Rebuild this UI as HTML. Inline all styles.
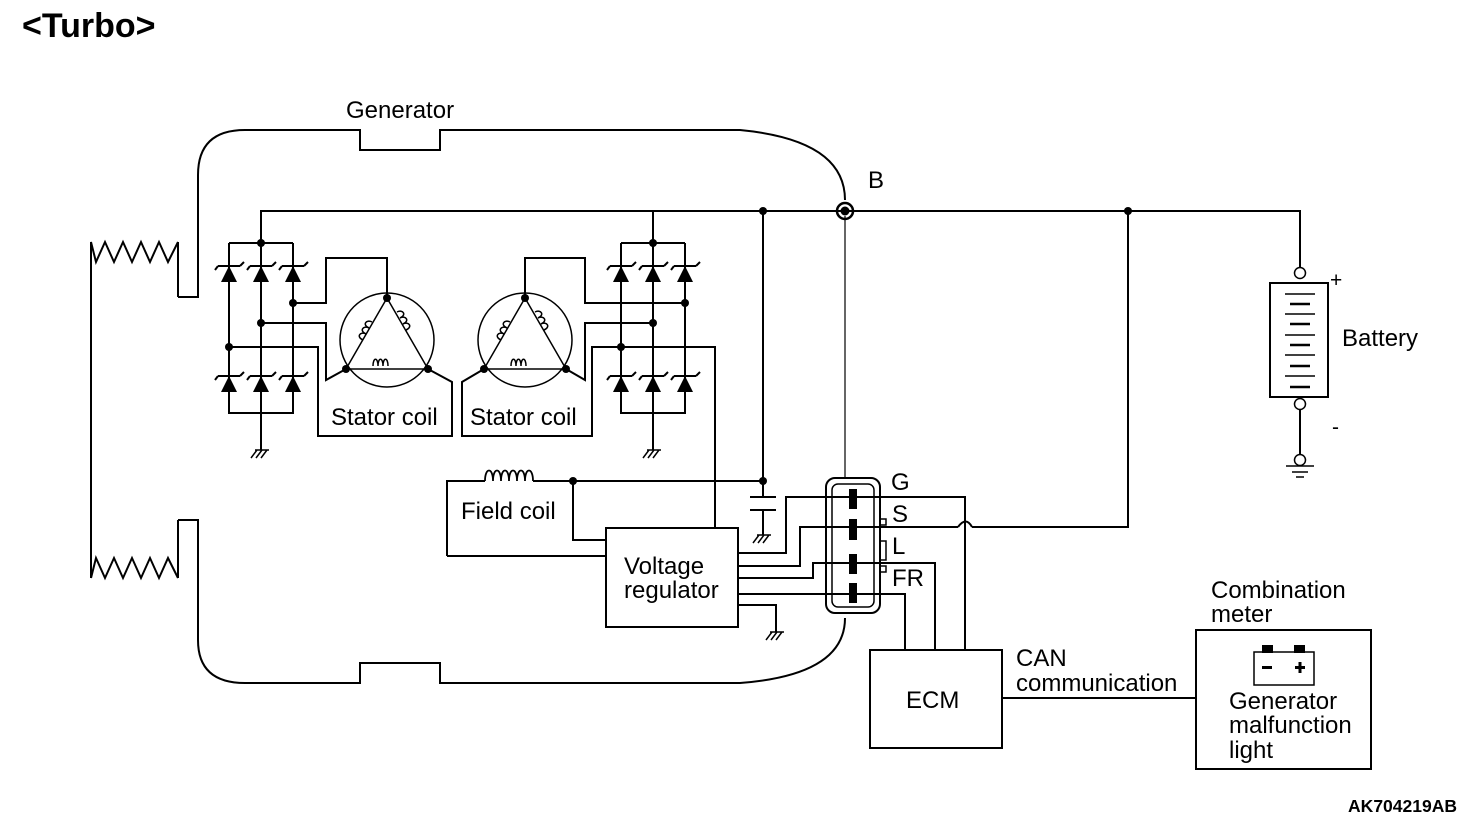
<!DOCTYPE html>
<html><head><meta charset="utf-8"><style>
html,body{margin:0;padding:0;background:#fff;}
svg{display:block;}
text{font-family:"Liberation Sans",Arial,sans-serif;fill:#000;}
</style></head><body>
<svg width="1472" height="828" viewBox="0 0 1472 828" xmlns="http://www.w3.org/2000/svg">
<defs>
<g id="d">
<polygon points="-8,9 8,9 0,-7" fill="#000"/>
<path d="M-11,-7 L11,-7 M-11,-7 L-14,-3 M11,-7 L15,-11" stroke="#000" stroke-width="2" fill="none"/>
</g>
<g id="gnd">
<path d="M-8,8 L-2,0 M-3,8 L3,0 M2,8 L8,0 M-4,0 L10,0" stroke="#000" stroke-width="1.5" fill="none"/>
</g>
</defs>
<text x="22" y="37" font-size="34" font-weight="bold">&lt;Turbo&gt;</text>
<text x="1457" y="812" font-size="17.5" font-weight="bold" text-anchor="end">AK704219AB</text>

<g fill="none" stroke="#000" stroke-width="2">
<path d="M178,297 L198,297 L198,175 Q198,130 245,130 L360,130 L360,150 L440,150 L440,130 L740,130 Q845,140 845,200"/>
<path d="M178,520 L198,520 L198,640 Q198,683 245,683 L360,683 L360,663 L440,663 L440,683 L740,683 Q845,675 845,618"/>
<path d="M178,297 L178,242 M178,520 L178,578"/>
<path d="M91,578 L91,242 L96,262 L105,242 L114,262 L123,242 L132,262 L141,242 L150,262 L159,242 L168,262 L178,242"/>
<path d="M91,578 L96,558 L105,578 L114,558 L123,578 L132,558 L141,578 L150,558 L159,578 L168,558 L178,578"/>
<path d="M261,243 L261,211 L1300,211 L1300,268"/>
<path d="M845,216 L845,478" stroke-width="1.2"/>
<path d="M229,243 L293,243 M229,243 L229,413 L293,413 L293,243 M261,243 L261,450"/>
<path d="M293,303 L326,303 L326,258 L387,258 L387,298"/>
<path d="M261,323 L326,323 L326,380 L346,369"/>
<path d="M229,347 L318,347 L318,436 L452,436 L452,382 L428,369"/>
<path d="M621,243 L685,243 M621,243 L621,413 L685,413 L685,243 M653,211 L653,450"/>
<path d="M685,303 L585,303 L585,258 L525,258 L525,298" />
<path d="M653,323 L585,323 L585,380 L566,369"/>
<path d="M715,528 L715,347 L592,347 L592,436 L462,436 L462,382 L484,369"/>
<circle cx="387" cy="340" r="47" stroke-width="1.5"/>
<circle cx="525" cy="340" r="47" stroke-width="1.5"/>
<path d="M387,298 L346,369 L428,369 Z M525,298 L484,369 L566,369 Z" stroke-width="1.5"/>
<path d="M447,556 L447,481 L485,481 M533,481 L763,481 M573,481 L573,540 L606,540 M447,556 L606,556 M763,211 L763,497 M763,510 L763,535"/>
<path d="M485,481 c0,-14 8,-14 8,0 c0,-14 8,-14 8,0 c0,-14 8,-14 8,0 c0,-14 8,-14 8,0 c0,-14 8,-14 8,0 c0,-14 8,-14 8,0" stroke-width="1.8"/>
<path d="M750,497 L776,497 M750,510 L776,510"/>
<rect x="606" y="528" width="132" height="99"/>
<path d="M738,553 L786,553 L786,497 L965,497 L965,650"/>
<path d="M738,566 L800,566 L800,527 L958,527 M972,527 L1128,527 L1128,211"/>
<path d="M958,527 Q966,516 972,527"/>
<path d="M738,578 L813,578 L813,563 L935,563 L935,650"/>
<path d="M738,594 L905,594 L905,650"/>
<path d="M738,605 L776,605 L776,632"/>
<rect x="826" y="478" width="54" height="135" rx="9"/>
<rect x="832" y="484" width="42" height="123" rx="6" stroke-width="1.5"/>
<path d="M880,519 L886,519 L886,525 L880,525 M880,541 L886,541 L886,560 L880,560 M880,566 L886,566 L886,572 L880,572" stroke-width="1.5"/>
<rect x="870" y="650" width="132" height="98"/>
<path d="M1002,698 L1196,698"/>
<rect x="1196" y="630" width="175" height="139"/>
<rect x="1254" y="652" width="60" height="33" stroke-width="1.5"/>
<rect x="1270" y="283" width="58" height="114"/>
<path d="M1300,410 L1300,455"/>
<circle cx="1300" cy="273" r="5.5" stroke-width="1.5"/>
<circle cx="1300" cy="404" r="5.5" stroke-width="1.5"/>
<circle cx="1300" cy="460" r="5.5" stroke-width="1.5"/>
<path d="M1285,294 L1315,294 M1285,314 L1315,314 M1285,335 L1315,335 M1285,355 L1315,355 M1285,376 L1315,376" stroke-width="1.5"/>
<path d="M1290,304 L1310,304 M1290,324 L1310,324 M1290,345 L1310,345 M1290,366 L1310,366 M1290,387 L1310,387" stroke-width="2.5"/>
<path d="M1286,466 L1314,466 M1292,472 L1308,472 M1296,477 L1304,477" stroke-width="1.5"/>
</g>
<g fill="#000">
<rect x="849" y="489" width="8" height="20"/>
<rect x="849" y="519" width="8" height="21"/>
<rect x="849" y="554" width="8" height="20"/>
<rect x="849" y="583" width="8" height="20"/>
<rect x="1262" y="645" width="11" height="8"/>
<rect x="1294" y="645" width="11" height="8"/>
<rect x="1262" y="666" width="10" height="3"/>
<rect x="1295" y="666" width="10" height="3"/>
<rect x="1298.5" y="662" width="3" height="11"/>
</g>
<g fill="#000">
<circle cx="261" cy="243" r="4"/><circle cx="293" cy="303" r="4"/><circle cx="261" cy="323" r="4"/><circle cx="229" cy="347" r="4"/>
<circle cx="653" cy="243" r="4"/><circle cx="685" cy="303" r="4"/><circle cx="653" cy="323" r="4"/><circle cx="621" cy="347" r="4"/>
<circle cx="387" cy="298" r="4"/><circle cx="346" cy="369" r="4"/><circle cx="428" cy="369" r="4"/>
<circle cx="525" cy="298" r="4"/><circle cx="484" cy="369" r="4"/><circle cx="566" cy="369" r="4"/>
<circle cx="763" cy="211" r="4"/><circle cx="1128" cy="211" r="4"/><circle cx="573" cy="481" r="4"/><circle cx="763" cy="481" r="4"/>
<circle cx="845" cy="211" r="4.5"/>
</g>
<circle cx="845" cy="211" r="8" fill="none" stroke="#000" stroke-width="2.5"/>
<use href="#d" x="229" y="273"/><use href="#d" x="261" y="273"/><use href="#d" x="293" y="273"/>
<use href="#d" x="229" y="383"/><use href="#d" x="261" y="383"/><use href="#d" x="293" y="383"/>
<use href="#d" x="621" y="273"/><use href="#d" x="653" y="273"/><use href="#d" x="685" y="273"/>
<use href="#d" x="621" y="383"/><use href="#d" x="653" y="383"/><use href="#d" x="685" y="383"/>
<use href="#gnd" x="259" y="450"/><use href="#gnd" x="651" y="450"/><use href="#gnd" x="761" y="535"/><use href="#gnd" x="774" y="632"/>
<g fill="none" stroke="#000" stroke-width="1.5">
<path d="M373,366 c0,-9 5,-9 5,0 c0,-9 5,-9 5,0 c0,-9 5,-9 5,0"/>
<path d="M511,366 c0,-9 5,-9 5,0 c0,-9 5,-9 5,0 c0,-9 5,-9 5,0"/>
<path d="M363,340 c-7,-3 -3,-9 3,-6 c-7,-3 -3,-9 3,-6 c-7,-3 -3,-9 3,-6"/>
<path d="M501,340 c-7,-3 -3,-9 3,-6 c-7,-3 -3,-9 3,-6 c-7,-3 -3,-9 3,-6"/>
<path d="M406,330 c7,-3 3,-9 -3,-6 c7,-3 3,-9 -3,-6 c7,-3 3,-9 -3,-6"/>
<path d="M544,330 c7,-3 3,-9 -3,-6 c7,-3 3,-9 -3,-6 c7,-3 3,-9 -3,-6"/>
</g>
<g font-size="24">
<text x="346" y="118">Generator</text>
<text x="868" y="188">B</text>
<text x="331" y="425">Stator coil</text>
<text x="470" y="425">Stator coil</text>
<text x="461" y="519">Field coil</text>
<text x="624" y="574">Voltage</text>
<text x="624" y="598">regulator</text>
<text x="891" y="490">G</text>
<text x="892" y="522">S</text>
<text x="892" y="554">L</text>
<text x="892" y="586">FR</text>
<text x="906" y="708">ECM</text>
<text x="1016" y="666">CAN</text>
<text x="1016" y="691">communication</text>
<text x="1211" y="598">Combination</text>
<text x="1211" y="622">meter</text>
<text x="1229" y="709">Generator</text>
<text x="1229" y="733">malfunction</text>
<text x="1229" y="758">light</text>
<text x="1342" y="346">Battery</text>
<text x="1330" y="287" font-size="21">+</text>
<text x="1332" y="434" font-size="21">-</text>
</g>
</svg>
</body></html>
